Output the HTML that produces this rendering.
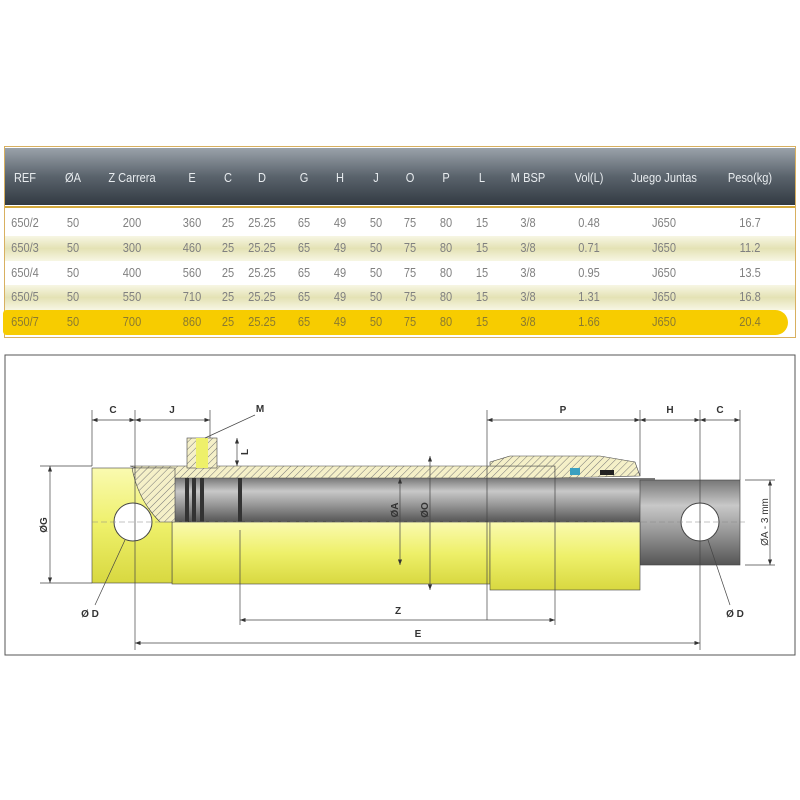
<!DOCTYPE html>
<html><head><style>
body{margin:0;width:800px;height:800px;background:#fff;overflow:hidden;position:relative;font-family:"Liberation Sans",sans-serif;}
.t{position:absolute;left:4px;top:146px;width:792px;height:192px;border:1px solid #d8b060;box-sizing:border-box;}
.hd{position:absolute;left:5px;top:148px;width:790px;height:57px;background:linear-gradient(#9aa2aa,#5a636c 50%,#323a42);}
.gl{position:absolute;left:5px;top:206px;width:790px;height:2px;background:#d4a93c;}
.r{position:absolute;left:5px;width:790px;height:25px;}
.c{background:linear-gradient(#f7f6e4,#e4e2b4 50%,#f7f6e4);}
.y{background:#f7cc00;border-radius:4px 14px 14px 4px;left:3px;width:785px;}
.tx{position:absolute;font-size:13px;color:#808080;transform:translateX(-50%) scaleX(0.85);white-space:nowrap;}
.h{color:#e8ecef;font-size:13px;}
</style></head><body>
<div class="t"></div>
<div class="hd"></div>
<div class="gl"></div>
<div class="r" style="top:210px;background:#fff"></div>
<div class="r c" style="top:236px"></div>
<div class="r" style="top:261px;background:#fff"></div>
<div class="r c" style="top:285px"></div>
<div class="r y" style="top:310px"></div>
<div id="cells"></div>
<script>
var xs=[25,73,132,192,228,262,304,340,376,410,446,482,528,589,664,750];
var h=["REF","ØA","Z Carrera","E","C","D","G","H","J","O","P","L","M BSP","Vol(L)","Juego Juntas","Peso(kg)"];
var rows=[["650/2","50","200","360","25","25.25","65","49","50","75","80","15","3/8","0.48","J650","16.7"],
["650/3","50","300","460","25","25.25","65","49","50","75","80","15","3/8","0.71","J650","11.2"],
["650/4","50","400","560","25","25.25","65","49","50","75","80","15","3/8","0.95","J650","13.5"],
["650/5","50","550","710","25","25.25","65","49","50","75","80","15","3/8","1.31","J650","16.8"],
["650/7","50","700","860","25","25.25","65","49","50","75","80","15","3/8","1.66","J650","20.4"]];
var ys=[215,240,265,289,314];var s="";
h.forEach(function(t,i){s+='<div class="tx h" style="left:'+xs[i]+'px;top:170px">'+t+'</div>';});
rows.forEach(function(r,j){r.forEach(function(t,i){s+='<div class="tx" style="left:'+xs[i]+'px;top:'+ys[j]+'px;'+(j==4?'color:#8a7a30':'')+'">'+t+'</div>';});});
document.getElementById('cells').innerHTML=s;
</script>
<svg style="position:absolute;left:0;top:0" width="800" height="800" font-family="Liberation Sans" font-size="10" font-weight="bold">
<defs>
<pattern id="hat" width="5" height="5" patternUnits="userSpaceOnUse" patternTransform="rotate(45)"><rect width="5" height="5" fill="#f5f0c8"/><line x1="0" y1="0" x2="0" y2="5" stroke="#777" stroke-width="1"/></pattern>
<linearGradient id="yel" x1="0" y1="0" x2="0" y2="1"><stop offset="0" stop-color="#fafab0"/><stop offset="0.5" stop-color="#eef06a"/><stop offset="1" stop-color="#d8d840"/></linearGradient>
<linearGradient id="gry" x1="0" y1="0" x2="0" y2="1"><stop offset="0" stop-color="#777"/><stop offset="0.3" stop-color="#c8c8c8"/><stop offset="0.6" stop-color="#999"/><stop offset="1" stop-color="#555"/></linearGradient>
<marker id="a" markerWidth="8" markerHeight="6" refX="8" refY="3" orient="auto-start-reverse"><path d="M0,0L8,3L0,6z" fill="#333"/></marker>
</defs>
<rect x="5" y="355" width="790" height="300" fill="#fff" stroke="#555" stroke-width="1"/>
<!-- rod -->
<rect x="172" y="478" width="483" height="44" fill="url(#gry)"/>
<rect x="640" y="480" width="100" height="85" fill="url(#gry)" stroke="#444" stroke-width="0.6"/>
<!-- barrel bottom -->
<rect x="172" y="522" width="318" height="62" fill="url(#yel)" stroke="#444" stroke-width="0.6"/>
<rect x="490" y="522" width="150" height="68" fill="url(#yel)" stroke="#444" stroke-width="0.6"/>
<!-- top wall hatched -->
<path d="M130,466 L555,466 L555,478 L240,478 L172,478 Z" fill="url(#hat)" stroke="#444" stroke-width="0.6"/>
<path d="M490,462 L510,456 L600,456 L635,462 L640,476 L555,478 L555,466 L490,466 Z" fill="url(#hat)" stroke="#444" stroke-width="0.6"/>
<rect x="570" y="468" width="10" height="7" fill="#3aa0c0"/><rect x="600" y="470" width="14" height="5" fill="#222"/>
<rect x="187" y="438" width="30" height="30" fill="url(#hat)" stroke="#444" stroke-width="0.6"/>
<rect x="196" y="438" width="12" height="30" fill="#eef06a"/>
<!-- cap -->
<rect x="92" y="468" width="80" height="115" fill="url(#yel)" stroke="#444" stroke-width="0.6"/>
<path d="M132,468 L175,468 L175,522 L160,522 Q138,500 132,468Z" fill="url(#hat)" stroke="#444" stroke-width="0.6"/>
<rect x="185" y="478" width="4" height="44" fill="#333"/><rect x="192" y="478" width="4" height="44" fill="#333"/><rect x="200" y="478" width="4" height="44" fill="#333"/><rect x="238" y="478" width="4" height="44" fill="#333"/>
<circle cx="133" cy="522" r="19" fill="#fff" stroke="#444"/>
<circle cx="700" cy="522" r="19" fill="#fff" stroke="#444"/>
<line x1="92" y1="522" x2="745" y2="522" stroke="#888" stroke-dasharray="6,3" stroke-width="0.6"/>
<g stroke="#444" stroke-width="0.7" fill="none">
<line x1="92" y1="410" x2="92" y2="466"/><line x1="135" y1="410" x2="135" y2="650"/><line x1="210" y1="410" x2="210" y2="438"/>
<line x1="92" y1="420" x2="135" y2="420" marker-start="url(#a)" marker-end="url(#a)"/>
<line x1="135" y1="420" x2="210" y2="420" marker-start="url(#a)" marker-end="url(#a)"/>
<line x1="205" y1="438" x2="255" y2="415"/>
<line x1="487" y1="410" x2="487" y2="620"/><line x1="640" y1="410" x2="640" y2="476"/><line x1="700" y1="410" x2="700" y2="650"/><line x1="740" y1="410" x2="740" y2="480"/>
<line x1="487" y1="420" x2="640" y2="420" marker-start="url(#a)" marker-end="url(#a)"/>
<line x1="640" y1="420" x2="700" y2="420" marker-start="url(#a)" marker-end="url(#a)"/>
<line x1="700" y1="420" x2="740" y2="420" marker-start="url(#a)" marker-end="url(#a)"/>
<line x1="240" y1="620" x2="555" y2="620" marker-start="url(#a)" marker-end="url(#a)"/>
<line x1="240" y1="530" x2="240" y2="625"/><line x1="555" y1="478" x2="555" y2="625"/>
<line x1="135" y1="643" x2="700" y2="643" marker-start="url(#a)" marker-end="url(#a)"/>
<line x1="40" y1="466" x2="92" y2="466"/><line x1="40" y1="583" x2="92" y2="583"/>
<line x1="50" y1="466" x2="50" y2="583" marker-start="url(#a)" marker-end="url(#a)"/>
<line x1="400" y1="478" x2="400" y2="565" marker-start="url(#a)" marker-end="url(#a)"/>
<line x1="430" y1="456" x2="430" y2="590" marker-start="url(#a)" marker-end="url(#a)"/>
<line x1="745" y1="480" x2="775" y2="480"/><line x1="745" y1="565" x2="775" y2="565"/>
<line x1="770" y1="480" x2="770" y2="565" marker-start="url(#a)" marker-end="url(#a)"/>
<line x1="237" y1="438" x2="237" y2="466" marker-start="url(#a)" marker-end="url(#a)"/>
<line x1="125" y1="540" x2="95" y2="605"/><line x1="708" y1="540" x2="730" y2="605"/>
</g>
<g fill="#333" text-anchor="middle">
<text x="113" y="413">C</text><text x="172" y="413">J</text><text x="260" y="412">M</text>
<text x="563" y="413">P</text><text x="670" y="413">H</text><text x="720" y="413">C</text>
<text x="398" y="614">Z</text><text x="418" y="637">E</text>
<text x="90" y="617">Ø D</text><text x="735" y="617">Ø D</text>
<text transform="translate(47,525) rotate(-90)">ØG</text>
<text transform="translate(398,510) rotate(-90)">ØA</text>
<text transform="translate(428,510) rotate(-90)">ØO</text>
<text transform="translate(768,522) rotate(-90)" font-weight="normal">ØA - 3 mm</text>
<text transform="translate(248,452) rotate(-90)">L</text>
</g>
</svg>
</body></html>
